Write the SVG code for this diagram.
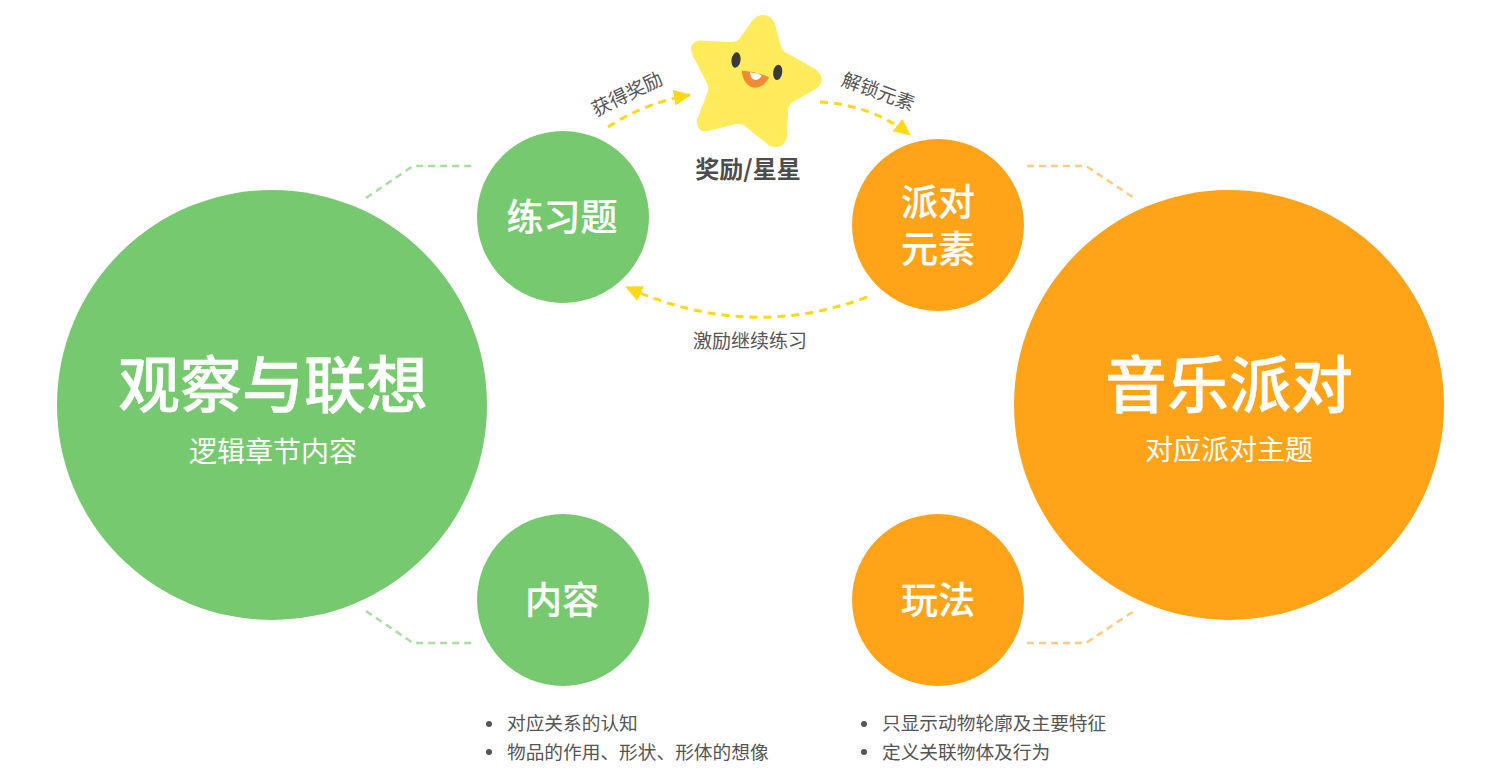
<svg xmlns="http://www.w3.org/2000/svg" width="1500" height="778" viewBox="0 0 1500 778">
<style>
text{font-family:"Noto Sans CJK SC","Noto Sans",sans-serif;text-anchor:middle}
.g{fill:#76c96e}.o{fill:#ffa319}
.t{fill:#fff;font-weight:500}
.big{font-size:62px;stroke:#fff;stroke-width:.4px}.sub{font-size:28px;font-weight:400}.mid{font-size:37px;stroke:#fff;stroke-width:.2px}
.lab{fill:#555;font-size:19px}
.li{fill:#555;font-size:18.7px;text-anchor:start}
.dot{fill:#555}
.dg{fill:none;stroke:#a9dea1;stroke-width:2.500;stroke-dasharray:7 5}
.do{fill:none;stroke:#ffcb82;stroke-width:2.500;stroke-dasharray:7 5}
.ar{fill:none;stroke:#ffd916;stroke-width:3;stroke-dasharray:8 6}
</style>
<defs><marker id="ah" markerUnits="userSpaceOnUse" markerWidth="20" markerHeight="18" refX="16" refY="8" orient="auto"><polygon points="0,0 17,8 0,16" fill="#ffd916"/></marker></defs>
<rect width="1500" height="778" fill="#fff"/>
<g id="connectors">
<path class="dg" d="M366 198L413 166H473"/>
<path class="dg" d="M366 611L413 643H473"/>
<path class="do" d="M1027 166H1086L1134 198"/>
<path class="do" d="M1027 643H1086L1134 611"/>
<path class="ar" marker-end="url(#ah)" d="M608 127Q644 103 690 95"/>
<path class="ar" marker-end="url(#ah)" d="M820 102Q872 105 910 135"/>
<path class="ar" marker-end="url(#ah)" d="M867 297Q748 342 626 287"/>
</g>
<g id="node-logic"><circle class="g" cx="272" cy="405" r="215"/><text class="t big" x="273" y="408">观察与联想</text><text class="t sub" x="273" y="462">逻辑章节内容</text></g>
<g id="node-party"><circle class="o" cx="1229" cy="405" r="215"/><text class="t big" x="1229" y="408">音乐派对</text><text class="t sub" x="1229" y="460">对应派对主题</text></g>
<g id="node-exercise"><circle class="g" cx="563" cy="217" r="86"/><text class="t mid" x="562" y="231">练习题</text></g>
<g id="node-content"><circle class="g" cx="563" cy="600" r="86"/><text class="t mid" x="562" y="614">内容</text></g>
<g id="node-elements"><circle class="o" cx="938" cy="225" r="86"/><text class="t mid"><tspan x="938" y="216">派对</tspan><tspan x="938" y="263">元素</tspan></text></g>
<g id="node-play"><circle class="o" cx="938" cy="600" r="86"/><text class="t mid" x="938" y="614">玩法</text></g>
<g id="node-star">
<path fill="#ffeb5c" d="M700 40.500L730 42Q737 42.500 740 38L752 21Q757 14.500 763 15Q772 15.500 775 24L781 46Q782 51 787 53L815 69Q822 74 821.700 80Q821 86 814 90L793 102Q788 105 788 111L787 135Q786 147 775 147Q770 147 766 143L745 126Q741 123 736 124L708 131Q699 133 697 124Q696 121 698 117L708 91Q709 87 707 83L693 56Q689 47 693 43.500Q696 40.500 700 40.500Z"/>
<ellipse cx="736" cy="60" rx="4.500" ry="7.700" fill="#3a3a3a" transform="rotate(8 736 60)"/>
<ellipse cx="777.700" cy="72.300" rx="4.500" ry="7.700" fill="#3a3a3a" transform="rotate(8 777.700 72.300)"/>
<path d="M741.700 70.700Q755 71 769 77.300Q764 88 754 87.700Q743 85 741.700 70.700Z" fill="#f08a35"/>
<path d="M750 72.300Q756 73 761.700 75.300Q760 80 755 80Q750.500 79 750 72.300Z" fill="#fff"/>
<text x="748" y="178" fill="#4d4d4d" font-size="24" font-weight="700">奖励/星星</text>
</g>
<g id="labels">
<text class="lab" transform="translate(630 100) rotate(-26)">获得奖励</text>
<text class="lab" transform="translate(876 98) rotate(20)">解锁元素</text>
<text class="lab" x="750" y="348">激励继续练习</text>
</g>
<g id="list-left">
<circle class="dot" cx="489" cy="724" r="3"/><text class="li" x="507" y="730">对应关系的认知</text>
<circle class="dot" cx="489" cy="752" r="3"/><text class="li" x="507" y="759">物品的作用、形状、形体的想像</text>
</g>
<g id="list-right">
<circle class="dot" cx="864" cy="724" r="3"/><text class="li" x="882" y="730">只显示动物轮廓及主要特征</text>
<circle class="dot" cx="864" cy="752" r="3"/><text class="li" x="882" y="759">定义关联物体及行为</text>
</g>
</svg>
